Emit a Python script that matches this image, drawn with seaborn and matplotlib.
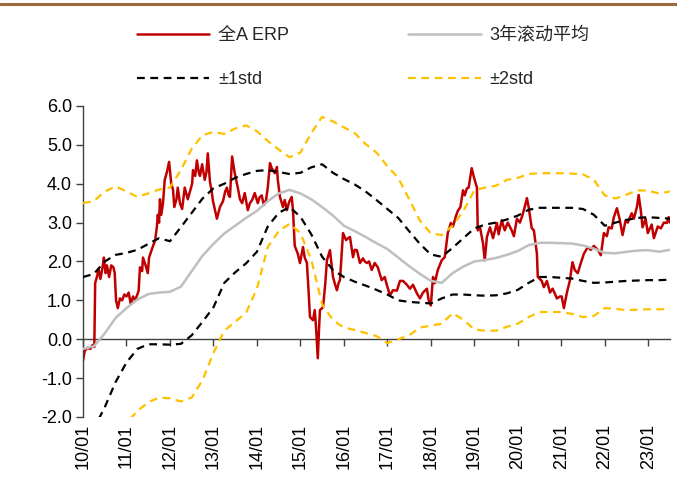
import numpy as np
import matplotlib
matplotlib.use("Agg")
import matplotlib.pyplot as plt
from matplotlib.lines import Line2D
from matplotlib.ticker import FormatStrFormatter
import seaborn as sns

# 全A ERP (decimal year, value)
red_years = [
    2010.00, 2010.04, 2010.10, 2010.17, 2010.22, 2010.26, 2010.28, 2010.32, 2010.36, 2010.40,
    2010.45, 2010.48, 2010.52, 2010.55, 2010.60, 2010.65, 2010.70, 2010.73, 2010.76, 2010.80,
    2010.85, 2010.90, 2010.95, 2011.00, 2011.05, 2011.10, 2011.15, 2011.20, 2011.25, 2011.28,
    2011.31, 2011.36, 2011.38, 2011.44, 2011.49, 2011.52, 2011.58, 2011.66, 2011.70, 2011.72,
    2011.75, 2011.77, 2011.80, 2011.84, 2011.88, 2011.93, 2011.98, 2012.03, 2012.07, 2012.10,
    2012.15, 2012.18, 2012.23, 2012.28, 2012.34, 2012.41, 2012.46, 2012.51, 2012.53, 2012.58,
    2012.62, 2012.66, 2012.69, 2012.74, 2012.80, 2012.84, 2012.87, 2012.92, 2012.96, 2012.99,
    2013.04, 2013.08, 2013.15, 2013.22, 2013.27, 2013.31, 2013.35, 2013.38, 2013.43, 2013.49,
    2013.56, 2013.61, 2013.66, 2013.72, 2013.79, 2013.84, 2013.89, 2013.95, 2014.02, 2014.06,
    2014.11, 2014.16, 2014.21, 2014.25, 2014.30, 2014.34, 2014.37, 2014.41, 2014.46, 2014.48,
    2014.53, 2014.60, 2014.64, 2014.69, 2014.74, 2014.80, 2014.83, 2014.87, 2014.94, 2014.99,
    2015.06, 2015.10, 2015.15, 2015.19, 2015.22, 2015.29, 2015.33, 2015.36, 2015.40, 2015.43,
    2015.45, 2015.52, 2015.57, 2015.61, 2015.68, 2015.72, 2015.75, 2015.80, 2015.84, 2015.88,
    2015.91, 2015.95, 2015.98, 2016.05, 2016.10, 2016.14, 2016.21, 2016.25, 2016.30, 2016.37,
    2016.44, 2016.48, 2016.53, 2016.58, 2016.64, 2016.71, 2016.78, 2016.82, 2016.87, 2016.94,
    2016.99, 2017.06, 2017.13, 2017.22, 2017.29, 2017.36, 2017.45, 2017.52, 2017.59, 2017.68,
    2017.75, 2017.82, 2017.91, 2017.95, 2018.00, 2018.05, 2018.09, 2018.16, 2018.25, 2018.32,
    2018.39, 2018.46, 2018.51, 2018.57, 2018.62, 2018.68, 2018.74, 2018.78, 2018.83, 2018.87,
    2018.94, 2018.99, 2019.06, 2019.08, 2019.13, 2019.20, 2019.24, 2019.29, 2019.36, 2019.43,
    2019.52, 2019.56, 2019.63, 2019.70, 2019.77, 2019.86, 2019.91, 2019.98, 2020.05, 2020.11,
    2020.16, 2020.21, 2020.25, 2020.32, 2020.37, 2020.44, 2020.46, 2020.55, 2020.60, 2020.67,
    2020.74, 2020.80, 2020.85, 2020.90, 2020.97, 2021.01, 2021.06, 2021.13, 2021.20, 2021.24,
    2021.26, 2021.31, 2021.38, 2021.45, 2021.52, 2021.61, 2021.68, 2021.75, 2021.84, 2021.91,
    2021.98, 2022.05, 2022.09, 2022.16, 2022.21, 2022.28, 2022.34, 2022.41, 2022.48, 2022.53,
    2022.62, 2022.67, 2022.74, 2022.78, 2022.83, 2022.87, 2022.94, 2022.99, 2023.08, 2023.13,
    2023.22, 2023.29, 2023.36, 2023.43, 2023.47, 2023.50,
]
red_erp = [
    -0.55, -0.30, -0.22, -0.25, -0.15, -0.20, 1.45, 1.60, 1.80, 1.55,
    1.85, 2.10, 1.70, 1.90, 1.60, 1.90, 1.85, 1.70, 1.00, 0.80,
    1.05, 1.00, 1.15, 1.10, 1.20, 0.90, 1.10, 1.00, 1.15, 1.25,
    1.85, 1.75, 2.10, 1.90, 1.70, 2.10, 2.30, 2.55, 2.90, 3.20,
    3.00, 3.60, 3.20, 3.50, 4.10, 4.30, 4.56, 4.00, 3.85, 3.40,
    3.60, 3.90, 3.50, 3.35, 3.90, 3.60, 3.80, 4.00, 4.35, 4.20,
    4.60, 4.30, 4.20, 4.50, 4.10, 4.30, 4.78, 4.05, 3.80, 3.55,
    3.30, 3.10, 3.40, 3.55, 3.80, 3.90, 3.70, 3.66, 4.70, 4.27,
    3.90, 3.60, 3.50, 3.76, 3.32, 3.50, 3.58, 3.76, 3.50, 3.65,
    3.70, 3.45, 3.58, 3.90, 4.53, 4.40, 4.35, 4.27, 4.43, 4.10,
    3.66, 3.40, 3.58, 3.32, 3.53, 3.66, 3.32, 2.40, 2.20, 1.96,
    2.37, 2.10, 1.96, 1.20, 0.57, 0.49, 0.75, 0.30, -0.49, 0.30,
    0.75, 0.82, 1.40, 2.03, 2.29, 1.90, 1.60, 1.40, 1.26, 1.45,
    1.52, 2.20, 2.73, 2.55, 2.60, 2.63, 2.11, 2.30, 2.29, 1.96,
    2.08, 2.00, 1.96, 2.00, 1.78, 1.96, 1.85, 1.70, 1.52, 1.60,
    1.39, 1.13, 1.26, 1.25, 1.50, 1.50, 1.40, 1.30, 1.40, 1.18,
    1.05, 1.20, 1.30, 1.00, 0.87, 1.60, 1.44, 1.78, 2.03, 2.11,
    2.73, 2.99, 2.90, 3.14, 3.30, 3.40, 3.83, 3.70, 3.88, 3.90,
    4.40, 4.17, 3.90, 2.80, 2.88, 2.47, 2.03, 2.63, 2.88, 2.60,
    2.99, 2.70, 3.06, 2.80, 3.00, 2.80, 2.65, 3.10, 3.00, 3.20,
    3.40, 3.63, 3.40, 2.86, 2.80, 2.20, 1.60, 1.50, 1.34, 1.50,
    1.20, 1.30, 1.18, 1.05, 1.10, 1.10, 0.80, 1.20, 1.52, 1.85,
    1.98, 1.78, 1.70, 1.96, 2.20, 2.37, 2.30, 2.40, 2.30, 2.16,
    2.73, 2.65, 2.88, 2.85, 3.14, 3.37, 3.10, 2.68, 3.06, 3.00,
    3.24, 3.10, 3.40, 3.71, 3.30, 2.88, 3.10, 2.73, 2.95, 2.60,
    2.90, 2.85, 3.00, 2.99, 3.14, 3.00,
]

# quarterly readings of the rolling mean and the bands
band_years = np.arange(2010, 2023.51, 0.25)
roll_mean = [
    -0.25, -0.18, 0.15, 0.55, 0.80, 1.02, 1.16, 1.20, 1.22, 1.35,
    1.75, 2.15, 2.45, 2.72, 2.92, 3.12, 3.30, 3.55, 3.75, 3.84,
    3.75, 3.60, 3.40, 3.18, 2.92, 2.78, 2.63, 2.47, 2.32, 2.10,
    1.88, 1.68, 1.50, 1.45, 1.70, 1.87, 2.00, 2.04, 2.09, 2.17,
    2.27, 2.42, 2.48, 2.48, 2.47, 2.46, 2.41, 2.33, 2.22, 2.21,
    2.25, 2.28, 2.29, 2.25, 2.30,
]
plus_1std = [
    1.60, 1.68, 2.00, 2.17, 2.22, 2.30, 2.45, 2.60, 2.52, 2.88,
    3.25, 3.62, 3.88, 4.00, 4.15, 4.25, 4.33, 4.35, 4.30, 4.25,
    4.28, 4.42, 4.50, 4.28, 4.12, 3.98, 3.80, 3.58, 3.35, 3.12,
    2.78, 2.45, 2.18, 2.12, 2.35, 2.60, 2.85, 2.95, 3.00, 3.08,
    3.18, 3.33, 3.38, 3.38, 3.38, 3.38, 3.35, 3.20, 2.92, 3.00,
    3.07, 3.12, 3.14, 3.12, 3.10,
]
minus_1std = [
    -2.60, -2.30, -1.75, -1.10, -0.60, -0.25, -0.13, -0.13, -0.14, -0.12,
    0.10, 0.45, 0.82, 1.45, 1.72, 1.95, 2.25, 2.90, 3.25, 3.40,
    3.15, 2.70, 2.12, 1.78, 1.60, 1.48, 1.38, 1.27, 1.15, 1.00,
    0.96, 0.94, 0.92, 1.05, 1.15, 1.15, 1.13, 1.12, 1.13, 1.18,
    1.27, 1.45, 1.60, 1.60, 1.58, 1.56, 1.50, 1.45, 1.46, 1.48,
    1.50, 1.51, 1.52, 1.52, 1.53,
]
plus_2std = [
    3.50, 3.55, 3.80, 3.93, 3.80, 3.66, 3.75, 3.85, 3.90, 4.35,
    4.90, 5.25, 5.33, 5.28, 5.42, 5.50, 5.35, 5.10, 4.88, 4.68,
    4.80, 5.30, 5.72, 5.60, 5.45, 5.30, 5.02, 4.80, 4.45, 4.15,
    3.60, 3.05, 2.72, 2.68, 2.92, 3.30, 3.83, 3.90, 3.95, 4.10,
    4.15, 4.25, 4.27, 4.27, 4.27, 4.26, 4.24, 4.10, 3.70, 3.62,
    3.72, 3.83, 3.82, 3.75, 3.80,
]
minus_2std = [
    -4.00, -3.60, -3.10, -2.60, -2.15, -1.85, -1.62, -1.50, -1.52, -1.60,
    -1.50, -1.05, -0.35, 0.22, 0.45, 0.68, 1.30, 2.37, 2.78, 2.97,
    2.73, 2.05, 0.90, 0.49, 0.30, 0.24, 0.16, 0.08, -0.10, 0.00,
    0.10, 0.30, 0.35, 0.40, 0.67, 0.50, 0.25, 0.22, 0.22, 0.32,
    0.40, 0.57, 0.70, 0.70, 0.70, 0.65, 0.57, 0.60, 0.80, 0.78,
    0.75, 0.76, 0.77, 0.77, 0.78,
]

tick_years = list(range(2010, 2024))
tick_labels = ["10/01", "11/01", "12/01", "13/01", "14/01", "15/01", "16/01",
               "17/01", "18/01", "19/01", "20/01", "21/01", "22/01", "23/01"]

RED = "#C00000"
GREY = "#BFBFBF"
GOLD = "#FFC000"
DASH = (0, (3.5, 2.5))

sns.set_theme(style="ticks")
plt.rcParams["font.family"] = ["Liberation Sans", "Noto Sans CJK SC"]
plt.rcParams["axes.unicode_minus"] = False

fig = plt.figure(figsize=(6.77, 4.86), dpi=100)
ax = fig.add_axes([0.1226, 0.142, 0.867, 0.640])

sns.lineplot(x=red_years, y=red_erp, ax=ax, color=RED, lw=1.8,
             label="全A ERP", zorder=2)
sns.lineplot(x=band_years, y=roll_mean, ax=ax, color=GREY, lw=1.8,
             label="3年滚动平均", zorder=3)
sns.lineplot(x=band_years, y=plus_1std, ax=ax, color="black", lw=1.6,
             linestyle=DASH, label="±1std", zorder=4)
sns.lineplot(x=band_years, y=minus_1std, ax=ax, color="black", lw=1.6,
             linestyle=DASH, label="_nolegend_", zorder=4)
sns.lineplot(x=band_years, y=plus_2std, ax=ax, color=GOLD, lw=1.6,
             linestyle=DASH, label="±2std", zorder=5)
sns.lineplot(x=band_years, y=minus_2std, ax=ax, color=GOLD, lw=1.6,
             linestyle=DASH, label="_nolegend_", zorder=5)

ax.set_xlim(2010, 2023.5)
ax.set_ylim(-2, 6)
ax.set_yticks(np.arange(-2, 6.1, 1))
ax.yaxis.set_major_formatter(FormatStrFormatter("%.1f"))
ax.set_xticks(tick_years)
ax.set_xticklabels(tick_labels, rotation=90)
ax.set_xlabel("")
ax.set_ylabel("")

for side in ["top", "right", "bottom"]:
    ax.spines[side].set_visible(False)
ax.spines["left"].set_color("#404040")
ax.spines["left"].set_linewidth(1.0)
ax.tick_params(axis="y", direction="out", length=5, width=1, color="#404040",
               labelsize=13, labelcolor="black", pad=3)
ax.tick_params(axis="x", length=0, labelsize=13, labelcolor="black", pad=5)

# x axis line sits on the zero level
zero_axis = ax.secondary_xaxis(0.25)
zero_axis.set_xticks(tick_years)
zero_axis.set_xticklabels([])
zero_axis.tick_params(direction="out", length=5, width=1, color="#404040")
zero_axis.spines["bottom"].set_color("#404040")
zero_axis.spines["bottom"].set_linewidth(1.0)

# two columns filled column-wise: row 1 = ERP, mean; row 2 = ±1std, ±2std
handles, labels = ax.get_legend_handles_labels()
order = [0, 2, 1, 3]
ax.legend([handles[i] for i in order], [labels[i] for i in order],
          ncol=2, frameon=False, loc="upper left",
          bbox_to_anchor=(0.2024, 0.945), bbox_transform=fig.transFigure,
          borderpad=0, borderaxespad=0, handlelength=4.0, handletextpad=0.5,
          columnspacing=6.6, labelspacing=1.5, fontsize=13)

fig.add_artist(Line2D([0, 1], [0.991, 0.991], transform=fig.transFigure,
                      color="#9C6A3C", lw=2.2))

fig.savefig("out.png", dpi=100)
